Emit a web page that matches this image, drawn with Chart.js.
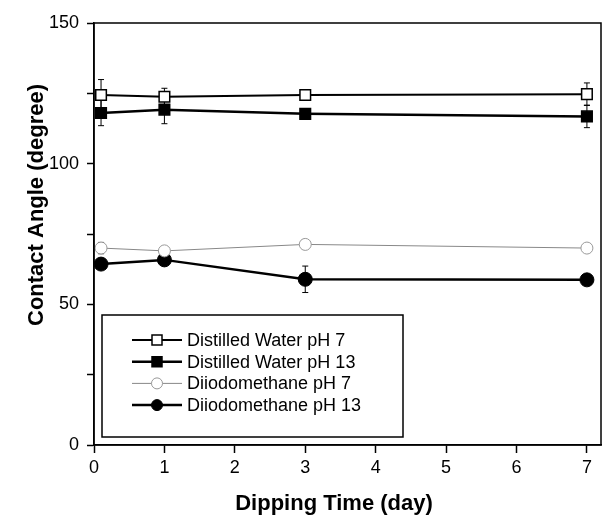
<!DOCTYPE html>
<html>
<head>
<meta charset="utf-8">
<script src="https://cdn.jsdelivr.net/npm/chart.js@4.4.1/dist/chart.umd.min.js"></script>
<style>
  html, body { margin: 0; padding: 0; background: #fff; }
  #wrap { width: 611px; height: 515px; }
</style>
</head>
<body>
<div id="wrap"><canvas id="AngleChart"></canvas></div>
<script>
// dipping time (day)
const days = [0.1, 1, 3, 7];

// contact angle (degree)
const waterPH7 = [124.4, 123.8, 124.4, 124.7];
const waterPH13 = [118.0, 119.2, 117.7, 116.8];
const diiodoPH7 = [70.0, 69.0, 71.3, 70.0];
const diiodoPH13 = [64.3, 65.8, 58.9, 58.7];

// error bars (+/-)
const waterPH7Err = [5.5, 3.0, 1.5, 4.0];
const waterPH13Err = [4.5, 5.0, 1.5, 4.0];
const diiodoPH7Err = [2.0, 1.5, 1.5, 1.5];
const diiodoPH13Err = [1.5, 1.5, 4.7, 1.0];

const seriesNames = ["Distilled Water pH 7", "Distilled Water pH 13", "Diiodomethane pH 7", "Diiodomethane pH 13"];

const xTicks = [0, 1, 2, 3, 4, 5, 6, 7];
const yTicks = [0, 25, 50, 75, 100, 125, 150];
const yLabels = ["0", "", "50", "", "100", "", "150"];

const FONT = "'Liberation Sans', Arial, sans-serif";

function pts(vals) {
  return days.map((d, i) => ({ x: d, y: vals[i] }));
}

const errors = [waterPH7Err, waterPH13Err, diiodoPH7Err, diiodoPH13Err];

const errorBars = {
  id: "errorBars",
  beforeDatasetsDraw(chart) {
    const ctx = chart.ctx;
    const xs = chart.scales.x, ys = chart.scales.y;
    ctx.save();
    ctx.strokeStyle = "#000";
    ctx.lineWidth = 1;
    chart.data.datasets.forEach((ds, i) => {
      ds.data.forEach((p, j) => {
        const e = errors[i][j];
        const x = xs.getPixelForValue(p.x);
        const y1 = ys.getPixelForValue(p.y + e);
        const y2 = ys.getPixelForValue(p.y - e);
        ctx.beginPath();
        ctx.moveTo(x, y1); ctx.lineTo(x, y2);
        ctx.moveTo(x - 3, y1); ctx.lineTo(x + 3, y1);
        ctx.moveTo(x - 3, y2); ctx.lineTo(x + 3, y2);
        ctx.stroke();
      });
    });
    ctx.restore();
  }
};

function marker(ctx, ds, x, y, r) {
  ctx.save();
  ctx.fillStyle = ds.pointBackgroundColor;
  ctx.strokeStyle = ds.pointBorderColor;
  ctx.lineWidth = ds.pointBorderWidth;
  ctx.beginPath();
  if (ds.pointStyle === "rect") {
    ctx.rect(x - r, y - r, 2 * r, 2 * r);
  } else {
    ctx.arc(x, y, r, 0, Math.PI * 2);
  }
  ctx.fill();
  ctx.stroke();
  ctx.restore();
}

const frameAndText = {
  id: "frameAndText",
  afterDraw(chart) {
    const ctx = chart.ctx;
    const a = chart.chartArea;
    ctx.save();
    // box around plot
    ctx.strokeStyle = "#000";
    ctx.lineWidth = 1.5;
    ctx.strokeRect(a.left, a.top, a.right - a.left, a.bottom - a.top);

    // axis titles
    ctx.fillStyle = "#000";
    ctx.font = "bold 22px " + FONT;
    ctx.textAlign = "center";
    ctx.textBaseline = "middle";
    ctx.fillText("Dipping Time (day)", a.left + 240, a.bottom + 59);
    ctx.save();
    ctx.translate(37, a.top + 182);
    ctx.rotate(-Math.PI / 2);
    ctx.fillText("Contact Angle (degree)", 0, 0);
    ctx.restore();

    // legend inside plot
    const bx = a.left + 8, bw = 301, bh = 122;
    const by = a.bottom - 8 - bh;
    ctx.fillStyle = "#fff";
    ctx.fillRect(bx, by, bw, bh);
    ctx.strokeStyle = "#000";
    ctx.lineWidth = 1.5;
    ctx.strokeRect(bx, by, bw, bh);
    ctx.font = "18px " + FONT;
    ctx.textAlign = "left";
    chart.data.datasets.forEach((ds, i) => {
      const y = by + 25 + i * 21.7;
      ctx.strokeStyle = ds.borderColor;
      ctx.lineWidth = ds.borderWidth;
      ctx.beginPath();
      ctx.moveTo(bx + 30, y);
      ctx.lineTo(bx + 80, y);
      ctx.stroke();
      marker(ctx, ds, bx + 55, y, ds.pointStyle === "rect" ? 5 : 5.5);
      ctx.fillStyle = "#000";
      ctx.fillText(seriesNames[i], bx + 85, y + 1);
    });
    ctx.restore();
  }
};

const AngleChart = document.getElementById("AngleChart");
new Chart(AngleChart, {
  type: "line",
  data: {
    datasets: [
      {
        label: seriesNames[0],
        data: pts(waterPH7),
        borderColor: "#000",
        borderWidth: 2,
        pointStyle: "rect",
        pointRadius: 7.5,
        pointBackgroundColor: "#fff",
        pointBorderColor: "#000",
        pointBorderWidth: 1.5
      },
      {
        label: seriesNames[1],
        data: pts(waterPH13),
        borderColor: "#000",
        borderWidth: 2.5,
        pointStyle: "rect",
        pointRadius: 7.5,
        pointBackgroundColor: "#000",
        pointBorderColor: "#000",
        pointBorderWidth: 1.5
      },
      {
        label: seriesNames[2],
        data: pts(diiodoPH7),
        borderColor: "#888",
        borderWidth: 1,
        pointStyle: "circle",
        pointRadius: 6,
        pointBackgroundColor: "#fff",
        pointBorderColor: "#999",
        pointBorderWidth: 1
      },
      {
        label: seriesNames[3],
        data: pts(diiodoPH13),
        borderColor: "#000",
        borderWidth: 2.5,
        pointStyle: "circle",
        pointRadius: 7,
        pointBackgroundColor: "#000",
        pointBorderColor: "#000",
        pointBorderWidth: 1
      }
    ]
  },
  options: {
    responsive: true,
    maintainAspectRatio: false,
    animation: false,
    layout: { padding: { top: 23, right: 10, left: 0, bottom: 0 } },
    plugins: {
      legend: { display: false },
      tooltip: { enabled: false }
    },
    scales: {
      x: {
        type: "linear",
        min: 0,
        max: 7.2,
        afterBuildTicks: s => { s.ticks = xTicks.map(v => ({ value: v })); },
        afterFit: s => { s.height = 70; },
        border: { color: "#000", width: 1.5 },
        grid: { drawOnChartArea: false, tickLength: 8, color: "#000", tickWidth: 1.5 },
        ticks: { color: "#000", font: { family: FONT, size: 18 }, padding: 4, maxRotation: 0 }
      },
      y: {
        min: 0,
        max: 150,
        afterBuildTicks: s => { s.ticks = yTicks.map(v => ({ value: v })); },
        afterFit: s => { s.width = 94; },
        border: { color: "#000", width: 1.5 },
        grid: { drawOnChartArea: false, tickLength: 7, color: "#000", tickWidth: 1.5 },
        ticks: {
          color: "#000",
          font: { family: FONT, size: 18 },
          padding: 8,
          callback: (v, i) => yLabels[i]
        }
      }
    }
  },
  plugins: [errorBars, frameAndText]
});
</script>
</body>
</html>
